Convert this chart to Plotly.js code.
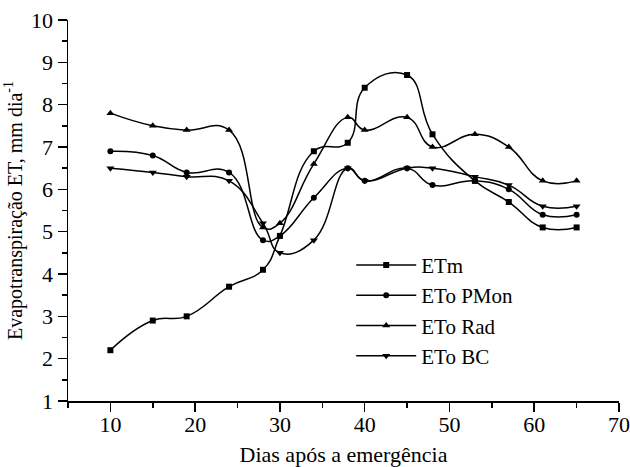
<!DOCTYPE html>
<html>
<head>
<meta charset="utf-8">
<script src="https://cdn.plot.ly/plotly-3.0.1.min.js"></script>
<style>html,body{margin:0;padding:0;background:#fff;}#chart{width:630px;height:467px;}</style>
</head>
<body>
<div id="chart"></div>
<script>
const days = [10, 15, 19, 24, 28, 30, 34, 38, 40, 45, 48, 53, 57, 61, 65];
const etm  = [2.2, 2.9, 3.0, 3.7, 4.1, 4.9, 6.9, 7.1, 8.4, 8.7, 7.3, 6.2, 5.7, 5.1, 5.1];
const etoPMon = [6.9, 6.8, 6.4, 6.4, 4.8, 4.9, 5.8, 6.5, 6.2, 6.5, 6.1, 6.2, 6.0, 5.4, 5.4];
const etoRad  = [7.8, 7.5, 7.4, 7.4, 5.1, 5.2, 6.6, 7.7, 7.4, 7.7, 7.0, 7.3, 7.0, 6.2, 6.2];
const etoBC   = [6.5, 6.4, 6.3, 6.2, 5.2, 4.5, 4.8, 6.5, 6.2, 6.5, 6.5, 6.3, 6.1, 5.6, 5.6];
const seriesNames = ['ETm', 'ETo PMon', 'ETo Rad', 'ETo BC'];
const xTicks = [10, 20, 30, 40, 50, 60, 70];
const yTicks = [1, 2, 3, 4, 5, 6, 7, 8, 9, 10];

const symbols = ['square', 'circle', 'triangle-up', 'triangle-down'];
const sizes = [6, 6, 7, 7];
const allY = [etm, etoPMon, etoRad, etoBC];

const traces = allY.map((ys, i) => ({
  x: days, y: ys, name: seriesNames[i], type: 'scatter', mode: 'lines+markers',
  line: {color: '#000', width: 1.5, shape: 'spline', smoothing: 1.3},
  marker: {symbol: symbols[i], size: sizes[i], color: '#000'}
}));

const FAM = 'Liberation Serif, Times New Roman, serif';
const f = (s) => ({family: FAM, size: s, color: '#000'});

const layout = {
  width: 630, height: 467,
  margin: {l: 68, r: 11, t: 20, b: 66},
  paper_bgcolor: '#fff', plot_bgcolor: '#fff',
  font: f(20),
  showlegend: true,
  legend: {x: 0.514, y: 0.41, xanchor: 'left', yanchor: 'top', bgcolor: 'rgba(0,0,0,0)',
           font: f(21), tracegroupgap: 0, itemwidth: 60},
  xaxis: {
    range: [5, 70], tickvals: xTicks, ticktext: xTicks.map(String),
    showline: true, linecolor: '#000', linewidth: 1.5, mirror: false,
    ticks: 'outside', ticklen: 9, tickwidth: 1.5, tickcolor: '#000',
    minor: {dtick: 5, tick0: 0, ticks: 'outside', ticklen: 5, tickwidth: 1.5, tickcolor: '#000'},
    showgrid: false, zeroline: false,
    tickfont: f(22), ticklabelstandoff: -6,
    title: {text: 'Dias após a emergência', font: f(22), standoff: 14}
  },
  yaxis: {
    range: [1, 10], tickvals: yTicks, ticktext: yTicks.map(String),
    showline: true, linecolor: '#000', linewidth: 1.5, mirror: false,
    ticks: 'outside', ticklen: 9, tickwidth: 1.5, tickcolor: '#000',
    minor: {dtick: 0.5, tick0: 0, ticks: 'outside', ticklen: 5, tickwidth: 1.5, tickcolor: '#000'},
    showgrid: false, zeroline: false,
    tickfont: f(22),
    title: {text: 'Evapotranspiração ET, mm dia<sup>-1</sup>', font: f(20), standoff: 3}
  }
};

Plotly.newPlot('chart', traces, layout, {displayModeBar: false, staticPlot: true});
</script>
</body>
</html>
